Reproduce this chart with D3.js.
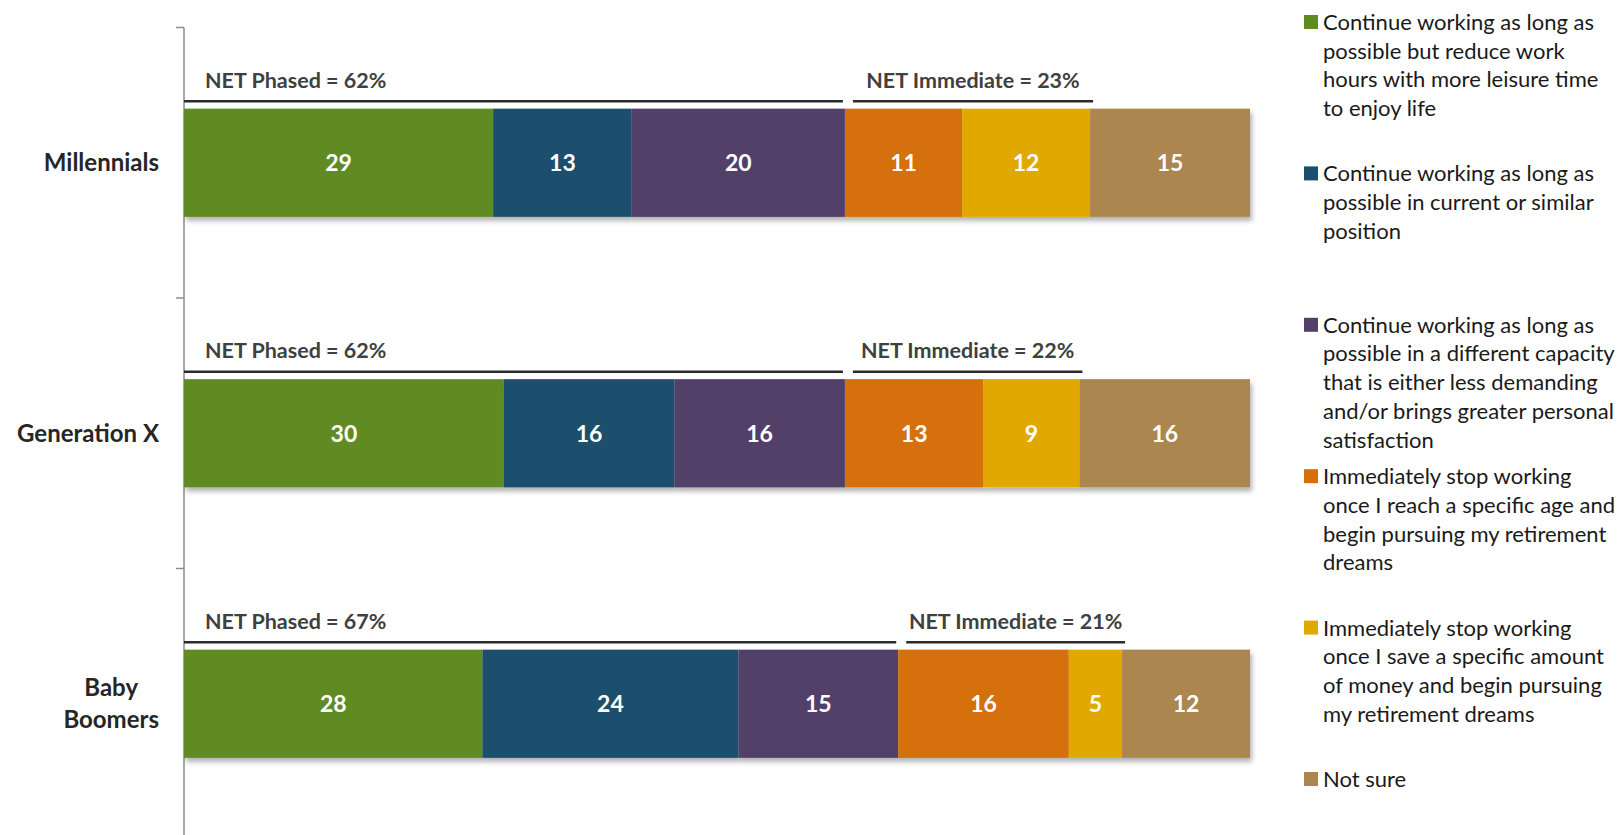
<!DOCTYPE html>
<html>
<head>
<meta charset="utf-8">
<script src="https://d3js.org/d3.v7.min.js"></script>
<style>
    html, body { margin: 0; padding: 0; background: #fff; }
    svg { display: block; font-family: Lato, "Open Sans", sans-serif; }
</style>
</head>
<body>
<div id="chart"></div>
<script>

// data
var categories = ['Millennials', 'Generation X', 'Baby Boomers'];
var categoryLines = [['Millennials'], ['Generation X'], ['Baby', 'Boomers']];

var seriesKeys = ['reduce', 'current', 'different', 'stopAge', 'stopMoney', 'notSure'];
var reduceHours = [29, 30, 28];
var currentPosition = [13, 16, 24];
var differentCapacity = [20, 16, 15];
var stopAtAge = [11, 13, 16];
var stopAtAmount = [12, 9, 5];
var notSure = [15, 16, 12];

var netPhased = [62, 62, 67];
var netImmediate = [23, 22, 21];

var legendLines = [
    ['Continue working as long as', 'possible but reduce work', 'hours with more leisure time', 'to enjoy life'],
    ['Continue working as long as', 'possible in current or similar', 'position'],
    ['Continue working as long as', 'possible in a different capacity', 'that is either less demanding', 'and/or brings greater personal', 'satisfaction'],
    ['Immediately stop working', 'once I reach a specific age and', 'begin pursuing my retirement', 'dreams'],
    ['Immediately stop working', 'once I save a specific amount', 'of money and begin pursuing', 'my retirement dreams'],
    ['Not sure']
];

var colors = ['#608b21', '#1b4f6d', '#533f69', '#d57008', '#e1a900', '#ab8650'];


var width = 1623, height = 835;

var svg = d3.select('#chart').append('svg')
    .attr('width', width)
    .attr('height', height);

// drop shadow under the bars
var defs = svg.append('defs');
defs.append('filter')
    .attr('id', 'shadow')
    .attr('x', '-5%').attr('y', '-20%')
    .attr('width', '110%').attr('height', '150%')
    .append('feDropShadow')
    .attr('dx', 2).attr('dy', 4)
    .attr('stdDeviation', 2.5)
    .attr('flood-color', '#000')
    .attr('flood-opacity', 0.3);

// scales
var x = d3.scaleLinear().domain([0, 100]).range([184, 1250]);
var y = d3.scaleBand().domain(categories).range([27.5, 839]).paddingInner(0.6).paddingOuter(0.3);
var band = d3.scaleBand().domain(categories).range([27.5, 839]);
var color = d3.scaleOrdinal().domain(seriesKeys).range(colors);

// table for stacking
var table = categories.map(function(c, i){
    return {
        category: c,
        reduce: reduceHours[i],
        current: currentPosition[i],
        different: differentCapacity[i],
        stopAge: stopAtAge[i],
        stopMoney: stopAtAmount[i],
        notSure: notSure[i]
    };
});
var stacked = d3.stack().keys(seriesKeys)(table);

// category axis: vertical line with ticks between bands
var axisG = svg.append('g')
    .attr('transform', 'translate(' + x(0) + ',0)');
axisG.append('line')
    .attr('x1', 0).attr('x2', 0)
    .attr('y1', band.range()[0]).attr('y2', band.range()[1])
    .attr('stroke', '#8c8c8c')
    .attr('stroke-width', 1.5);
axisG.selectAll('.tick-mark')
    .data(categories)
    .enter().append('line')
    .attr('class', 'tick-mark')
    .attr('x1', -8).attr('x2', 0)
    .attr('y1', function(d){ return band(d); })
    .attr('y2', function(d){ return band(d); })
    .attr('stroke', '#8c8c8c')
    .attr('stroke-width', 1.5);

// bars
var bars = svg.append('g').attr('filter', 'url(#shadow)');
var layers = bars.selectAll('.layer')
    .data(stacked).enter()
    .append('g')
    .attr('class', 'layer')
    .attr('fill', function(d){ return color(d.key); });

layers.selectAll('rect')
    .data(function(d){ return d; })
    .enter().append('rect')
    .attr('x', function(d){ return x(d[0]); })
    .attr('width', function(d){ return x(d[1]) - x(d[0]); })
    .attr('y', function(d){ return y(d.data.category); })
    .attr('height', y.bandwidth());

// value labels
var labels = svg.append('g');
stacked.forEach(function(layer){
    labels.selectAll('.v-' + layer.key)
        .data(layer).enter()
        .append('text')
        .attr('class', 'v-' + layer.key)
        .attr('x', function(d){ return (x(d[0]) + x(d[1])) / 2; })
        .attr('y', function(d){ return y(d.data.category) + y.bandwidth() / 2; })
        .attr('dy', '0.36em')
        .style('text-anchor', 'middle')
        .style('font-size', '23px')
        .style('font-weight', 'bold')
        .style('fill', '#fff')
        .text(function(d){ return d[1] - d[0]; });
});

// category labels
categories.forEach(function(c, i){
    var lines = categoryLines[i];
    var g = svg.append('g');
    var cy = y(c) + y.bandwidth() / 2;
    var lh = 32;
    var t = g.selectAll('text')
        .data(lines).enter()
        .append('text')
        .attr('y', function(d, j){ return cy + (j - (lines.length - 1) / 2) * lh; })
        .attr('dy', '0.36em')
        .style('font-size', '24px')
        .style('font-weight', 'bold')
        .style('fill', '#262626')
        .text(function(d){ return d; });
    // wrapped labels are centred on the widest line, right edge at 159
    var w = d3.max(t.nodes(), function(n){ return n.getComputedTextLength(); });
    t.attr('x', 159 - w / 2).style('text-anchor', 'middle');
});

// NET brackets
var net = svg.append('g');
categories.forEach(function(c, i){
    var ly = y(c) - 7.5;
    var p = netPhased[i], m = netImmediate[i];

    net.append('line')
        .attr('x1', x(0)).attr('x2', x(p) - 2)
        .attr('y1', ly).attr('y2', ly)
        .attr('stroke', '#2b2b2b').attr('stroke-width', 2.5);
    net.append('line')
        .attr('x1', x(p) + 8).attr('x2', x(p + m) + 3)
        .attr('y1', ly).attr('y2', ly)
        .attr('stroke', '#2b2b2b').attr('stroke-width', 2.5);

    net.append('text')
        .attr('x', x(0) + 21)
        .attr('y', ly - 21)
        .attr('dy', '0.36em')
        .style('font-size', '21.5px')
        .style('font-weight', 'bold')
        .style('fill', '#404040')
        .text('NET Phased = ' + p + '%');
    net.append('text')
        .attr('x', (x(p) + 8 + x(p + m) + 3) / 2)
        .attr('y', ly - 21)
        .attr('dy', '0.36em')
        .style('text-anchor', 'middle')
        .style('font-size', '21.5px')
        .style('font-weight', 'bold')
        .style('fill', '#404040')
        .text('NET Immediate = ' + m + '%');
});

// legend
var legend = svg.append('g');
var items = legend.selectAll('.item')
    .data(seriesKeys).enter()
    .append('g')
    .attr('class', 'item')
    .attr('transform', function(d, i){ return 'translate(1304,' + (22 + i * 151.4) + ')'; });

items.append('rect')
    .attr('x', 0).attr('y', -7)
    .attr('width', 14).attr('height', 14)
    .attr('fill', function(d){ return color(d); });

items.each(function(d, i){
    d3.select(this).selectAll('text')
        .data(legendLines[i]).enter()
        .append('text')
        .attr('x', 19)
        .attr('y', function(t, j){ return j * 28.7; })
        .attr('dy', '0.36em')
        .style('font-size', '22px')
        .style('fill', '#1a1a1a')
        .text(function(t){ return t; });
});

</script>
</body>
</html>
